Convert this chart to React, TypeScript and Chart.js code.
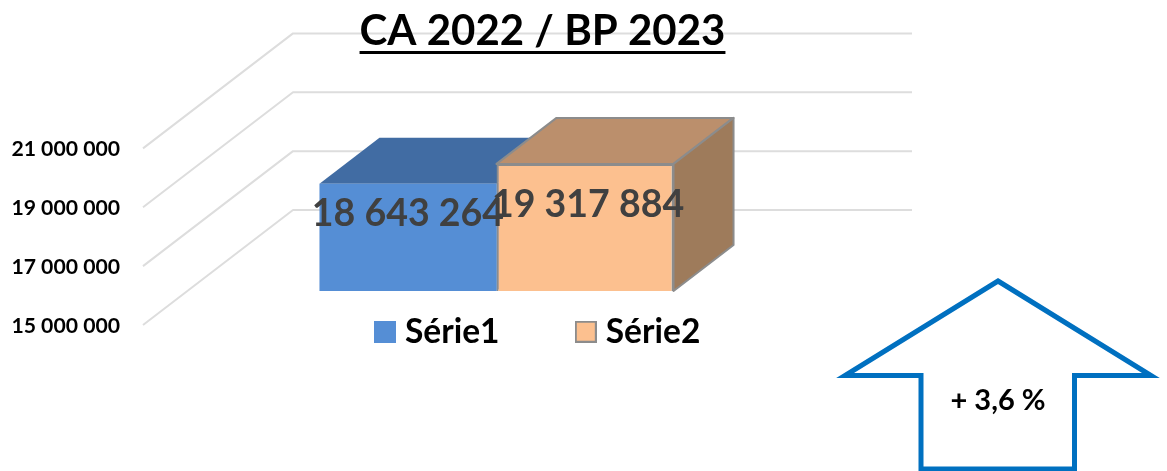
import React, { useEffect, useRef } from "react";
import { Chart, registerables } from "chart.js";

Chart.register(...registerables);

const categories = ["CA 2022 / BP 2023"];
const seriesNames = ["Série1", "Série2"];
const serie1 = [18643264];
const serie2 = [19317884];
const yMin = 15000000;
const yMax = 21000000;
const yStep = 2000000;
const titleText = "CA 2022 / BP 2023";
const arrowText = "+ 3,6 %";

const FONT = "Lato, Carlito, Calibri, sans-serif";
const WEIGHT = "bold";
const colors = [
  { front: "#558ED5", top: "#416CA3", side: "#416CA3", border: "#558ED5" },
  { front: "#FCC08F", top: "#BB8F6C", side: "#9E7B5B", border: "#8C8C8C" },
];

const fmt = (v: number) => String(Math.round(v)).replace(/\B(?=(\d{3})+(?!\d))/g, " ");

function legendBox(fill: string, stroke: string) {
  const c = document.createElement("canvas");
  c.width = 22;
  c.height = 22;
  const g = c.getContext("2d")!;
  g.fillStyle = stroke;
  g.fillRect(0, 0, 22, 22);
  g.fillStyle = fill;
  g.fillRect(2, 2, 18, 18);
  return c;
}

const chart3d = {
  id: "chart3d",
  afterLayout(chart: any) {
    const t = chart.titleBlock;
    t.left = 0;
    t.right = 1085;
    t.top = 6;
    t.bottom = t.top + t.height;
    const l = chart.legend;
    const pad = l.options.labels.padding;
    l.left = 381.75 - pad;
    l.right = 1160;
    l.top = 315 - pad;
    l.bottom = 365;
  },
  beforeDraw(chart: any) {
    const { ctx, chartArea, scales } = chart;
    ctx.save();
    ctx.strokeStyle = "#DDDDDD";
    ctx.lineWidth = 2;
    ctx.lineJoin = "round";
    for (const tick of scales.y.ticks) {
      const y = scales.y.getPixelForValue(tick.value);
      ctx.beginPath();
      ctx.moveTo(chartArea.left, y);
      ctx.lineTo(chartArea.left + 150, y - 115);
      ctx.lineTo(912, y - 115);
      ctx.stroke();
    }
    ctx.restore();
  },
  beforeDatasetsDraw(chart: any) {
    const { ctx } = chart;
    ctx.save();
    ctx.translate(44, -34);
    const dx = 60;
    const dy = -46;
    ctx.lineJoin = "round";
    chart.data.datasets.forEach((_: any, i: number) => {
      const bar = chart.getDatasetMeta(i).data[0];
      const l = bar.x - bar.width / 2;
      const r = bar.x + bar.width / 2;
      const c = colors[i];
      ctx.strokeStyle = c.border;
      ctx.lineWidth = i === 1 ? 2 : 0;
      ctx.fillStyle = c.top;
      ctx.beginPath();
      ctx.moveTo(l, bar.y);
      ctx.lineTo(l + dx, bar.y + dy);
      ctx.lineTo(r + dx, bar.y + dy);
      ctx.lineTo(r, bar.y);
      ctx.closePath();
      ctx.fill();
      if (i === 1) ctx.stroke();
      ctx.fillStyle = c.side;
      ctx.beginPath();
      ctx.moveTo(r, bar.y);
      ctx.lineTo(r + dx, bar.y + dy);
      ctx.lineTo(r + dx, bar.base + dy);
      ctx.lineTo(r, bar.base);
      ctx.closePath();
      ctx.fill();
      if (i === 1) ctx.stroke();
    });
  },
  afterDatasetsDraw(chart: any) {
    const { ctx } = chart;
    ctx.font = `${WEIGHT} 37.5px ${FONT}`;
    ctx.fillStyle = "#404040";
    ctx.textAlign = "center";
    ctx.textBaseline = "middle";
    chart.data.datasets.forEach((ds: any, i: number) => {
      const bar = chart.getDatasetMeta(i).data[0];
      ctx.fillText(fmt(ds.data[0]), bar.x + (i === 1 ? 3 : 0), (bar.y + bar.base) / 2 - 23);
    });
    ctx.restore();
  },
  afterDraw(chart: any) {
    const { ctx } = chart;
    ctx.save();
    // title underline
    ctx.font = `${WEIGHT} 42px ${FONT}`;
    const w = ctx.measureText(titleText).width;
    const cx = (chart.titleBlock.left + chart.titleBlock.right) / 2;
    ctx.fillStyle = "#000000";
    ctx.fillRect(cx - w / 2, 51, w, 3);
    // arrow
    ctx.strokeStyle = "#0070C0";
    ctx.lineWidth = 5;
    ctx.lineJoin = "miter";
    ctx.beginPath();
    ctx.moveTo(998, 281);
    ctx.lineTo(1151, 375.5);
    ctx.lineTo(1074.5, 375.5);
    ctx.lineTo(1074.5, 469);
    ctx.lineTo(921, 469);
    ctx.lineTo(921, 375.5);
    ctx.lineTo(845, 375.5);
    ctx.closePath();
    ctx.stroke();
    ctx.font = `${WEIGHT} 29px ${FONT}`;
    ctx.fillStyle = "#000000";
    ctx.textAlign = "center";
    ctx.textBaseline = "middle";
    ctx.fillText(arrowText, 998, 401);
    ctx.restore();
  },
};

export default function App() {
  const ref = useRef<HTMLCanvasElement>(null);
  useEffect(() => {
    const boxes = colors.map((c) => legendBox(c.front, c.border));
    const chart = new Chart(ref.current!, {
      type: "bar",
      data: {
        labels: categories,
        datasets: [
          {
            label: seriesNames[0],
            data: serie1,
            base: yMin,
            backgroundColor: colors[0].front,
            borderColor: colors[0].border,
            borderWidth: 0,
          },
          {
            label: seriesNames[1],
            data: serie2,
            base: yMin,
            backgroundColor: colors[1].front,
            borderColor: colors[1].border,
            borderWidth: 2,
          },
        ],
      },
      options: {
        responsive: false,
        animation: false,
        categoryPercentage: 0.572,
        barPercentage: 1,
        layout: { padding: { top: 98, bottom: 136, left: 0, right: 405 } },
        scales: {
          x: { display: false },
          y: {
            min: yMin,
            max: yMax,
            grid: { display: false, drawTicks: false },
            border: { display: false },
            afterFit(s: any) {
              s.width = 143;
            },
            ticks: {
              stepSize: yStep,
              padding: 23,
              labelOffset: 1,
              color: "#000000",
              font: { family: FONT, weight: WEIGHT, size: 21.2 },
              callback: (v: any) => fmt(Number(v)),
            },
          },
        },
        plugins: {
          tooltip: { enabled: false },
          title: {
            display: true,
            text: titleText,
            color: "#000000",
            padding: 0,
            font: { family: FONT, weight: WEIGHT, size: 42 },
          },
          legend: {
            display: true,
            position: "bottom",
            align: "start",
            maxHeight: 10,
            labels: {
              usePointStyle: true,
              pointStyleWidth: 6.5,
              boxHeight: 21,
              padding: 83,
              color: "#000000",
              font: { family: FONT, weight: WEIGHT, size: 33.5 },
              generateLabels(c: any) {
                return Chart.defaults.plugins.legend.labels
                  .generateLabels(c)
                  .map((it: any, i: number) => ({ ...it, pointStyle: boxes[i] }));
              },
            },
          },
        },
      },
      plugins: [chart3d],
    } as any);
    return () => chart.destroy();
  }, []);
  return (
    <canvas
      ref={ref}
      width={1167}
      height={471}
      style={{ display: "block", position: "absolute", left: 0, top: 0 }}
    />
  );
}
